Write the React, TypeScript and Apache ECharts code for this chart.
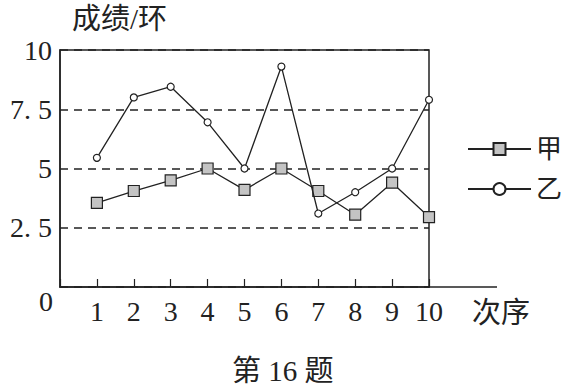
import React, { useEffect, useRef } from "react";
import * as echarts from "echarts";

const xTicks = [1, 2, 3, 4, 5, 6, 7, 8, 9, 10];
const jiaScores = [3.55, 4.05, 4.5, 5, 4.1, 5, 4.05, 3.05, 4.4, 2.95];
const yiScores = [5.45, 8, 8.45, 6.95, 5, 9.3, 3.1, 4, 5, 7.9];
const yTickLabels: Record<number, string> = { 2.5: "2. 5", 5: "5", 7.5: "7. 5", 10: "10" };
const seriesNames = ["甲", "乙"];

const FONT = "'Liberation Serif', 'Noto Sans CJK SC', serif";

export default function App() {
  const ref = useRef<HTMLDivElement>(null);
  useEffect(() => {
    if (!ref.current) return;
    const chart = echarts.init(ref.current, null, { renderer: "svg" });
    chart.setOption({
      animation: false,
      backgroundColor: "#fff",
      textStyle: { fontFamily: FONT, color: "#222" },
      grid: {
        left: 60,
        top: 50,
        right: 136,
        bottom: 101,
        show: true,
        borderColor: "#222",
        borderWidth: 1.5,
      },
      legend: {
        orient: "vertical",
        left: 467,
        top: 136,
        padding: 0,
        itemWidth: 63,
        itemHeight: 15,
        itemGap: 14,
        textStyle: { fontSize: 26, fontFamily: FONT, color: "#222" },
        data: seriesNames,
      },
      xAxis: {
        type: "value",
        min: 0,
        max: 10,
        interval: 1,
        axisLine: { show: true, lineStyle: { color: "#222", width: 1.5 } },
        axisTick: { show: true, inside: true, length: 8, lineStyle: { color: "#222", width: 1.2 } },
        axisLabel: {
          fontSize: 28,
          color: "#222",
          margin: 10,
          formatter: (v: number) => (xTicks.includes(v) ? String(v) : ""),
        },
        splitLine: { show: false },
      },
      yAxis: {
        type: "value",
        min: 0,
        max: 10,
        interval: 2.5,
        axisLine: { show: true, lineStyle: { color: "#222", width: 1.5 } },
        axisTick: { show: false },
        axisLabel: {
          fontSize: 28,
          color: "#222",
          margin: 8,
          padding: [6, 0, 0, 0],
          formatter: (v: number) => yTickLabels[v] ?? "",
        },
        splitLine: { show: true, lineStyle: { color: "#222", width: 1.5, type: [8, 6] } },
      },
      series: [
        {
          name: seriesNames[0],
          type: "line",
          data: xTicks.map((x, i) => [x, jiaScores[i]]),
          symbol: "rect",
          symbolSize: 11,
          lineStyle: { color: "#222", width: 1.3 },
          itemStyle: { color: "#c4c4c4", borderColor: "#222", borderWidth: 1.2 },
          z: 3,
        },
        {
          name: seriesNames[1],
          type: "line",
          data: xTicks.map((x, i) => [x, yiScores[i]]),
          symbol: "circle",
          symbolSize: 7,
          lineStyle: { color: "#222", width: 1.3 },
          itemStyle: { color: "#fff", borderColor: "#222", borderWidth: 1.2 },
          z: 4,
        },
      ],
      graphic: [
        { type: "line", shape: { x1: 429, y1: 287, x2: 497, y2: 287 }, style: { stroke: "#222", lineWidth: 1.5 } },
        { type: "text", left: 72, top: 4, style: { text: "成绩/环", fontSize: 29, fontFamily: FONT, fill: "#222" } },
        { type: "text", left: 39, top: 287, style: { text: "0", fontSize: 28, fontFamily: FONT, fill: "#222" } },
        { type: "text", left: 472, top: 298, style: { text: "次序", fontSize: 29, fontFamily: FONT, fill: "#222" } },
        { type: "text", left: 232, top: 356, style: { text: "第 16 题", fontSize: 29, fontFamily: FONT, fill: "#222" } },
      ],
    });
    return () => chart.dispose();
  }, []);
  return <div ref={ref} style={{ width: 565, height: 388, position: "absolute", left: 0, top: 0 }} />;
}
